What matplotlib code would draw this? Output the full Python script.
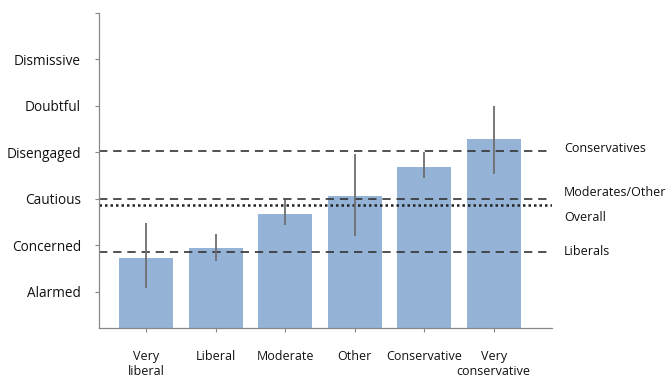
import matplotlib
matplotlib.use("Agg")
import matplotlib.pyplot as plt
import numpy as np

# groups and mean engagement (1 = Alarmed ... 6 = Dismissive)
groups = ["Very\nliberal", "Liberal", "Moderate", "Other", "Conservative", "Very\nconservative"]
means = [1.73, 1.95, 2.68, 3.07, 3.69, 4.28]
err_low = [1.09, 1.67, 2.44, 2.21, 3.44, 3.54]
err_high = [2.47, 2.25, 2.98, 3.97, 4.00, 5.00]

levels = ["Alarmed", "Concerned", "Cautious", "Disengaged", "Doubtful", "Dismissive"]

# reference lines
ref_names = ["Conservatives", "Moderates/Other", "Overall", "Liberals"]
ref_values = [4.02, 3.00, 2.87, 1.86]
ref_styles = ["dashed", "dashed", "dotted", "dashed"]

plt.rcParams['font.family'] = ['Open Sans', 'DejaVu Sans']

fig = plt.figure(figsize=(6.7, 3.79), dpi=100)
ax = fig.add_axes([0.148, 0.1346, 0.676, 0.831])

x = np.arange(len(groups))
ymin = 0.22
bars = ax.bar(x, np.array(means) - ymin, bottom=ymin, width=0.78, color="#95b3d7", zorder=1)

lo = np.array(means) - np.array(err_low)
hi = np.array(err_high) - np.array(means)
ax.errorbar(x, means, yerr=[lo, hi], fmt="none", ecolor="#6e6e6e", elinewidth=1.3, capsize=0, zorder=3)

for val, name, st in zip(ref_values, ref_names, ref_styles):
    if st == "dotted":
        ax.axhline(val, color="#222222", lw=1.8, linestyle=(0, (1, 1.2)), zorder=2)
    else:
        ax.axhline(val, color="#333333", lw=1.2, linestyle=(0, (5, 3.5)), zorder=2)

# labels to the right of the plot
offsets = {"Conservatives": 0.07, "Moderates/Other": 0.13, "Overall": -0.27, "Liberals": 0.0}
for val, name in zip(ref_values, ref_names):
    ax.text(1.026, val + offsets[name], name, transform=ax.get_yaxis_transform(),
            va="center", ha="left", fontsize=9, color="#111111")

ax.set_xlim(-0.68, 5.84)
ax.set_ylim(ymin, 7.0)
ax.set_yticks(list(range(1, 8)))
ax.set_yticklabels(levels + [""])
ax.set_xticks(x)
ax.set_xticklabels(groups)

ax.tick_params(axis="y", length=3, width=0.8, color="#888888", pad=10, labelsize=9.8)
ax.tick_params(axis="x", length=3, width=0.8, color="#888888", pad=13, labelsize=9, direction="out")
for lbl in ax.get_yticklabels() + ax.get_xticklabels():
    lbl.set_color("#111111")

for s in ["top", "right"]:
    ax.spines[s].set_visible(False)
for s in ["left", "bottom"]:
    ax.spines[s].set_color("#888888")
    ax.spines[s].set_linewidth(0.9)

plt.savefig("out.png", dpi=100)
